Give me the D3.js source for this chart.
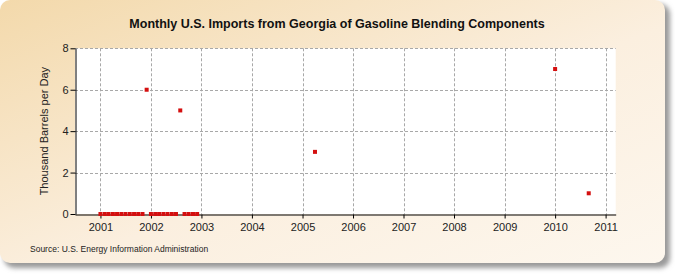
<!DOCTYPE html>
<html>
<head>
<meta charset="utf-8">
<script src="https://cdn.jsdelivr.net/npm/d3@7"></script>
<style>
  body { margin: 0; background: #fff; }
  svg { display: block; }
</style>
</head>
<body>
<svg width="675" height="275"></svg>
<script>
// monthly values, thousand barrels per day
const months = [
  "2001-01","2001-02","2001-03","2001-04","2001-05","2001-06","2001-07","2001-08","2001-09","2001-10","2001-11","2001-12",
  "2002-01","2002-02","2002-03","2002-04","2002-05","2002-06","2002-07","2002-08","2002-09","2002-10","2002-11","2002-12",
  "2005-04","2010-01","2010-09"
];
const values = [
  0,0,0,0,0,0,0,0,0,0,0,6,
  0,0,0,0,0,0,0,5,0,0,0,0,
  3,7,1
];
const yearTicks = [2001,2002,2003,2004,2005,2006,2007,2008,2009,2010,2011];
const yTicks = [0,2,4,6,8];

const title = "Monthly U.S. Imports from Georgia of Gasoline Blending Components";
const yTitle = "Thousand Barrels per Day";
const source = "Source: U.S. Energy Information Administration";

let svg = d3.select('svg');
const parse = d3.timeParse("%Y-%m");
const data = months.map(function (m, i) { return { date: parse(m), value: values[i] }; });

// background panel
let defs = svg.append('defs');
let grad = defs.append('linearGradient').attr('id', 'bg')
  .attr('x1', '0%').attr('y1', '0%').attr('x2', '100%').attr('y2', '100%');
grad.append('stop').attr('offset', '0%').attr('stop-color', '#f3d9ab');
grad.append('stop').attr('offset', '55%').attr('stop-color', '#fbefdf');
grad.append('stop').attr('offset', '100%').attr('stop-color', '#fdf7ee');
let sh = defs.append('filter').attr('id', 'blur').attr('x', '-5%').attr('y', '-5%').attr('width', '110%').attr('height', '115%');
sh.append('feGaussianBlur').attr('stdDeviation', 2.5);

svg.append('rect').attr('x', 4).attr('y', 4).attr('width', 666).attr('height', 264)
  .attr('rx', 10).attr('fill', '#9a9a9a').attr('filter', 'url(#blur)');
svg.append('rect').attr('x', 0).attr('y', 0).attr('width', 665).attr('height', 263)
  .attr('rx', 10).attr('fill', 'url(#bg)');

// plot area
const pLeft = 75, pRight = 615.7, pTop = 48.3, pBottom = 214;
let xScale = d3.scaleTime()
  .domain([new Date(2000, 6, 1), new Date(2011, 2, 15)])
  .range([pLeft, pRight]);
let yScale = d3.scaleLinear().domain([0, 8]).range([pBottom, pTop]);

svg.append('rect').attr('x', pLeft).attr('y', pTop)
  .attr('width', pRight - pLeft).attr('height', pBottom - pTop).attr('fill', '#fff');

// grid
let grid = svg.append('g').attr('stroke', '#a8a8a8').attr('stroke-dasharray', '3,2').attr('stroke-width', 1);
grid.selectAll('line.v').data(yearTicks).join('line')
  .attr('x1', function (d) { return Math.round(xScale(new Date(d, 0, 1))) + 0.5; })
  .attr('x2', function (d) { return Math.round(xScale(new Date(d, 0, 1))) + 0.5; })
  .attr('y1', pTop).attr('y2', pBottom);
grid.selectAll('line.h').data(yTicks.filter(function (d) { return d > 0; })).join('line')
  .attr('x1', pLeft).attr('x2', pRight)
  .attr('y1', function (d) { return Math.round(yScale(d)) + 0.5; })
  .attr('y2', function (d) { return Math.round(yScale(d)) + 0.5; });

// axes
const font = '"Liberation Sans Narrow", "Arial Narrow", "Liberation Sans", sans-serif';
let xAxis = d3.axisBottom(xScale)
  .tickValues(yearTicks.map(function (d) { return new Date(d, 0, 1); }))
  .tickFormat(d3.timeFormat('%Y')).tickSize(4).tickSizeOuter(0);
let gx = svg.append('g').attr('transform', 'translate(0,' + (Math.round(pBottom) + 0.5) + ')').call(xAxis);
gx.select('.domain').attr('stroke', '#000');
gx.selectAll('.tick line').attr('stroke', '#000');
gx.selectAll('text').attr('font-family', font).attr('font-size', 11).attr('fill', '#222').attr('dy', '0.85em');

let yAxis = d3.axisLeft(yScale).tickValues(yTicks).tickSize(5).tickSizeOuter(0);
let gy = svg.append('g').attr('transform', 'translate(' + (Math.round(pLeft) + 0.5) + ',0)').call(yAxis);
gy.select('.domain').attr('stroke', '#000');
gy.selectAll('.tick line').attr('stroke', '#000');
gy.selectAll('text').attr('font-family', font).attr('font-size', 11).attr('fill', '#222').attr('x', -7);

// points
svg.append('g').selectAll('rect').data(data).join('rect')
  .attr('x', function (d) { return xScale(d.date) - 2; })
  .attr('y', function (d) { return yScale(d.value) - 2; })
  .attr('width', 4).attr('height', 4)
  .attr('fill', '#d40f0f');

// texts
svg.append('text').attr('x', 337).attr('y', 28).attr('text-anchor', 'middle')
  .attr('font-family', font).attr('font-weight', 'bold').attr('font-size', 12.5).attr('fill', '#111')
  .text(title);
svg.append('text').attr('transform', 'translate(48,' + ((pTop + pBottom) / 2) + ') rotate(-90)')
  .attr('text-anchor', 'middle').attr('font-family', font).attr('font-size', 11).attr('fill', '#222')
  .text(yTitle);
svg.append('text').attr('x', 30).attr('y', 252)
  .attr('font-family', '"Liberation Sans", Arial, sans-serif').attr('font-size', 8.5).attr('fill', '#222')
  .text(source);
</script>
</body>
</html>
